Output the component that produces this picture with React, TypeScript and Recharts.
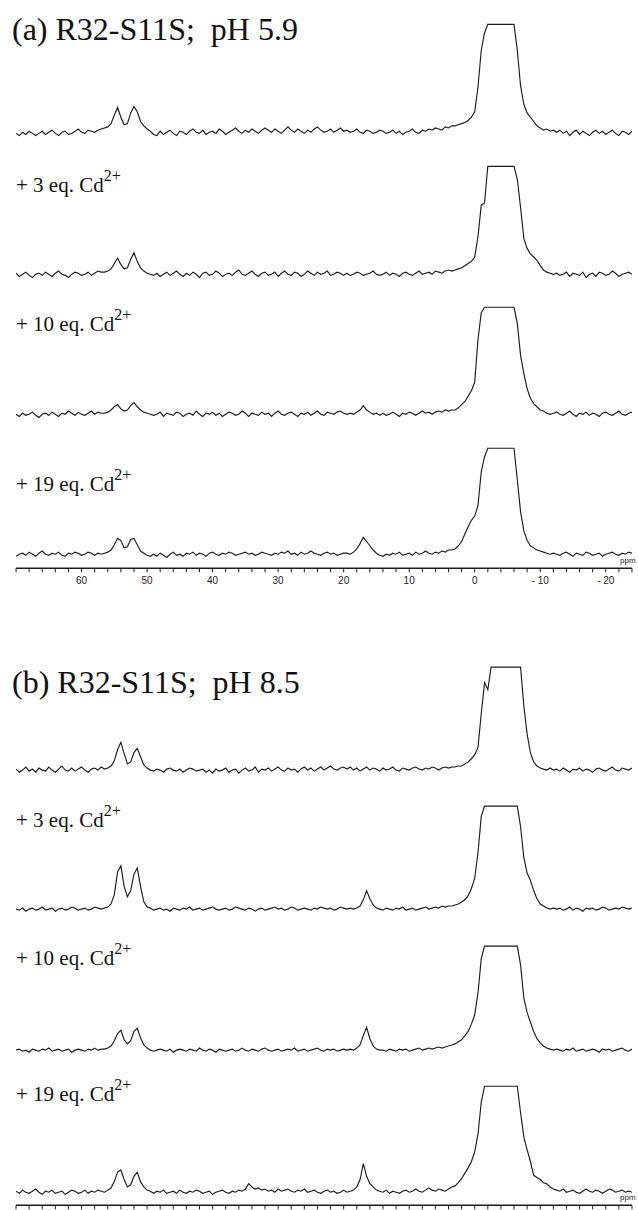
import React from 'react';
import { LineChart, Line, XAxis, YAxis } from 'recharts';

// 113Cd spectra, sampled every 0.5 ppm from 70 ppm down to -24 ppm
const PPM_START = 70;
const PPM_STEP = 0.5;
const PPM_COUNT = 189;
const ppmGrid = Array.from({ length: PPM_COUNT }, (_, i) => PPM_START - i * PPM_STEP);

const MINOR_TICKS = [
  70, 68, 66, 64, 62, 60, 58, 56, 54, 52, 50, 48, 46, 44, 42, 40, 38, 36, 34, 32, 30, 28, 26, 24,
  22, 20, 18, 16, 14, 12, 10, 8, 6, 4, 2, 0, -2, -4, -6, -8, -10, -12, -14, -16, -18, -20, -22, -24,
];
const LABELLED_TICKS = [60, 50, 40, 30, 20, 10, 0, -10, -20];

const PANEL_TITLES = ['(a) R32-S11S;  pH 5.9', '(b) R32-S11S;  pH 8.5'];
const TRACE_LABELS = ['+ 3 eq. Cd', '+ 10 eq. Cd', '+ 19 eq. Cd'];
const CHARGE = '2+';

// intensities, 100 = clipped top of the big peak
// segments: 70-57 | 56.5-49.5 | 49-20 | 19.5-14.5 | 14-3.5 | 3 to -12 | -12.5 to -24
const phLowFree = [
  -1, -3, 0, -2, 1, -1, -3, -1, 1, -2, 0, 2, -1, -3, 0, 1, -2, -1, 1, 3, 0, -1, 2, 1, 0, 2, 3,
  4, 5, 8, 16, 23, 14, 7, 8, 18, 24, 19, 10, 6, 3, 1,
  -2, -3, 1, -2, 0, 2, -1, -3, 1, 0, -2, 1, 3, 0, -1, 2, -2, 0, 1, -1, 3, 1, -2, 0, 2, 4, 1, -1, 2, 0,
  3, 1, -1, 2, 4, 2, 0, 3, 1, -1, 2, 5, 2, 0, 3, 1, -1, 2, 0, 3, 5, 2, 0, 1, 3, 0, 2, 4, 1,
  2, 0, 1, 3, 0, -1, 2, 1, -1, 0, 2,
  1, -1, 0, 2, -1, 1, -2, 0, 1, 3, 0, -1, 2, 1, 3, 2, 4, 3, 2, 5, 4, 6,
  6, 7, 8, 9, 11, 14, 19, 42, 76, 92, 100, 100, 100, 100, 100, 100, 100, 100, 100, 76, 43, 26, 18, 14, 10, 6, 4, 2, 3, 1, 2,
  0, 2, -1, 1, -3, 0, 2, -2, 1, -1, -3, 0, 2, -1, 1, -2, 0, 2, -1, -3, 1, 0, -2, 1,
];
const phLowCd3 = [
  1, -2, 0, 2, -1, -3, 0, 1, -1, 2, 0, -2, 1, 3, 0, -1, -3, 0, 2, 1, -1, 0, 2, -1, 1, 3, 2,
  2, 3, 5, 10, 15, 9, 5, 6, 14, 20, 12, 6, 3, 1, 0,
  -1, 1, -2, 0, 2, -1, 1, 3, 0, -2, 1, -1, 2, 0, -3, 1, 2, -1, 0, 3, 1, -2, 0, 1, -1, 2, 4, 0, -1, 1,
  3, 0, -2, 1, 2, -1, 0, 2, -2, 1, 3, 0, -1, 2, 1, -2, 0, 3, 1, -1, 2, 0, 1, 3, -1, 0, 2, 1, -1,
  1, -1, 0, 2, 1, -1, 0, 1, 3, 0, -1,
  0, 2, -1, 1, 0, -2, 1, 2, 0, -1, 1, 3, 0, 1, 2, 0, 3, 2, 1, 3, 4, 3,
  4, 5, 6, 8, 10, 12, 16, 35, 64, 66, 100, 100, 100, 100, 100, 100, 100, 100, 100, 88, 62, 33, 24, 19, 16, 13, 8, 4, 2, 1, 0,
  1, -1, 0, 2, -2, 1, 0, -1, 2, -3, 0, 1, -2, 2, 1, -1, 0, 3, 1, -2, 0, 1, 2, 0,
];
const phLowCd10 = [
  0, -2, 1, -1, 0, 2, -1, -3, 0, 1, -1, 2, 0, -2, 1, 0, 3, 1, -1, 2, 0, -1, 1, 3, 0, 2, 1,
  1, 2, 4, 7, 9, 5, 3, 4, 8, 11, 7, 4, 2, 1, 0,
  -1, 0, 2, -2, 1, 0, -1, 2, 1, -2, 0, 1, -1, 3, 0, -2, 1, 0, 2, -1, 1, -2, 0, 2, 1, -1, 0, 3, 1, -2,
  1, 0, -1, 2, 0, 1, -2, 1, 3, 0, -1, 1, 2, 0, -2, 1, 0, 2, -1, 1, 3, 0, -1, 2, 1, 0, 2, 3, 1,
  0, 1, 0, 2, 4, 8, 4, 2, 0, 1, -1,
  1, -1, 0, 2, 0, -2, 1, 0, 2, 1, -1, 1, 3, 1, 2, 0, 2, 3, 2, 4, 3, 4,
  4, 6, 9, 12, 17, 22, 30, 70, 95, 100, 100, 100, 100, 100, 100, 100, 100, 100, 100, 85, 55, 38, 24, 15, 10, 7, 4, 3, 1, 0, 1,
  2, 0, -1, 1, 3, 0, -2, 1, 0, 2, -1, 1, 0, -2, 1, 2, 0, -1, 1, 3, 0, -1, 1, 2,
];
const phLowCd19 = [
  -2, 0, 1, -1, 2, 0, -2, 1, 3, 0, -1, 1, 0, 2, -1, -2, 1, 0, 2, 1, -1, 0, 2, 1, -1, 1, 0,
  1, 2, 4, 9, 15, 13, 6, 7, 14, 15, 9, 3, 1, -1, -2,
  0, -2, 1, -1, -3, 0, 2, -1, 0, -2, 1, 0, 2, -1, 1, 0, -2, 1, 2, 0, -1, 1, 0, 2, 1, -1, 0, 1, 2, 0,
  1, -1, 0, 2, 1, 0, -1, 1, 0, 2, 1, 3, 0, 1, -1, 2, 0, 1, 3, 1, 0, -1, 1, 2, 0, 1, -1, 0, 1,
  1, 0, 2, 5, 10, 16, 12, 8, 4, 1, -1,
  -2, 0, -1, 1, 0, 2, -1, 0, 1, -1, 2, 0, 1, 3, 1, 0, 2, 1, 3, 2, 4, 4,
  5, 8, 12, 19, 26, 32, 36, 46, 78, 92, 100, 100, 100, 100, 100, 100, 100, 100, 100, 70, 40, 22, 13, 8, 6, 4, 3, 2, 1, 0, 1,
  0, -1, 1, 2, 0, -2, 1, 0, -1, 2, 1, -1, 0, 1, -2, 0, 1, 2, 0, -1, 1, 0, 2, 1,
];

const phHighFree = [
  1, -2, 0, 3, -1, 1, -2, 2, 0, -1, 3, 0, -2, 1, 4, 0, -1, 2, -1, 1, 3, 0, -2, 1, 2, 0, 3,
  1, 2, 4, 9, 20, 27, 16, 6, 8, 17, 21, 13, 5, 2, 0,
  -1, 1, 0, -2, 1, 2, 0, -1, 1, -2, 0, 2, 1, -1, 0, 1, -2, 0, -3, 1, -1, 0, 2, -2, 0, 1, -3, 0, 2, -1,
  0, 3, -2, 1, 0, 2, -1, 1, 3, 0, -1, 2, 0, 1, -2, 1, 3, 0, 2, -1, 1, 3, 0, 2, 4, 1, 0, 2, 3,
  1, 3, 0, 2, -1, 1, 3, 0, 2, 1, -1,
  2, 0, 1, 3, 0, -1, 2, 1, 0, 2, 3, 1, 0, 2, 1, 3, 2, 0, 2, 3, 2, 3,
  3, 4, 4, 6, 8, 11, 15, 22, 55, 85, 78, 100, 100, 100, 100, 100, 100, 100, 100, 100, 100, 62, 35, 17, 8, 4, 2, 1, 0, 2, 0,
  1, -1, 2, 0, -2, 1, 0, 2, -1, 1, 0, -2, 1, 2, 0, -1, 1, 3, 0, -1, 2, 1, 0, 2,
];
const phHighCd3 = [
  0, -1, 1, -2, 0, 1, -1, 0, 2, -1, 0, 1, -2, 0, 1, -1, 0, 2, 1, -1, 0, 1, -1, 0, 2, 1, 0,
  1, 2, 5, 14, 36, 42, 22, 12, 18, 34, 40, 22, 7, 2, 1,
  -1, 0, 1, -1, 0, -2, 1, 0, -1, 1, 0, 2, -1, 0, 1, -1, 0, 1, 2, 0, -1, 0, 1, -1, 0, 2, 1, 0, -1, 1,
  0, -2, 0, 1, -1, 0, 1, 2, 0, 1, -1, 0, 2, 1, -1, 0, 1, 0, -1, 1, 0, 2, 1, 0, 1, -1, 0, 2, 1,
  0, 1, 0, 1, 3, 9, 18, 10, 4, 1, 0,
  -1, 1, 0, -1, 1, 0, 2, -1, 0, 1, -1, 0, 1, 2, 0, 1, 2, 1, 3, 2, 3, 3,
  4, 5, 7, 9, 13, 20, 30, 55, 90, 100, 100, 100, 100, 100, 100, 100, 100, 100, 100, 100, 80, 50, 35, 28, 18, 10, 5, 3, 1, 0, 1,
  0, 1, -1, 0, 2, -1, 1, 0, -2, 1, 0, 1, -1, 0, 2, 1, -1, 0, 1, 0, 2, 1, 0, 1,
];
const phHighCd10 = [
  0, 1, -1, 0, -2, 1, 0, -1, 1, 0, 2, -1, 0, 1, -1, 0, 1, -2, 0, 1, 0, -1, 1, 0, 2, 0, 1,
  1, 2, 4, 9, 16, 19, 10, 6, 9, 18, 21, 12, 5, 2, 0,
  -1, 0, 1, 0, -1, 1, -2, 0, 1, 0, -1, 1, 0, -1, 2, 0, -1, 1, 0, -2, 1, 0, -1, 0, 1, -1, 0, 2, 0, -1,
  1, 0, -1, 1, 2, 0, -1, 0, 1, -1, 0, 1, 0, 2, -1, 0, 1, -1, 0, 1, 2, 0, -1, 1, 0, 1, -1, 0, 1,
  0, 1, 0, 2, 5, 14, 22, 11, 4, 1, 0,
  0, -1, 1, 0, -1, 1, 0, 1, -1, 0, 1, 2, 0, 1, 2, 1, 2, 3, 2, 3, 4, 5,
  6, 8, 10, 14, 18, 25, 34, 55, 88, 100, 100, 100, 100, 100, 100, 100, 100, 100, 100, 100, 82, 50, 36, 27, 18, 11, 7, 4, 2, 1, 0,
  1, 0, -1, 1, 0, 2, -1, 0, 1, -1, 0, 1, 0, -2, 1, 0, 1, -1, 0, 1, 2, 0, -1, 1,
];
const phHighCd19 = [
  1, -1, 2, 0, -1, 1, 3, 0, -2, 1, 0, 2, -1, 0, 1, -2, 0, 2, 1, -1, 0, 2, -1, 1, 0, 2, 1,
  0, 2, 4, 10, 19, 21, 12, 5, 7, 15, 19, 10, 5, 2, 1,
  -1, 1, 0, 2, -1, 0, 1, -1, 2, 0, -1, 1, 0, 2, 1, -1, 0, 1, -2, 0, 1, 2, 0, -1, 1, 0, 2, 1, 3, 8,
  5, 3, 4, 2, 3, 1, 2, 0, 3, 1, 2, 3, 1, 0, 2, 1, 3, 0, 1, 2, 0, -1, 1, 2, 0, 1, -1, 0, 2,
  0, 1, 2, 5, 12, 27, 15, 8, 5, 2, 1,
  0, 2, -1, 1, 0, -1, 1, 2, 0, 1, 3, 1, 0, 2, 4, 2, 1, 3, 2, 1, 3, 5,
  6, 9, 13, 18, 23, 29, 38, 55, 85, 100, 100, 100, 100, 100, 100, 100, 100, 100, 100, 100, 75, 52, 40, 29, 16, 14, 12, 9, 8, 5, 3,
  2, 1, 3, 0, 1, 2, 0, -1, 1, 3, 1, 0, 2, 1, -1, 1, 3, 2, 0, 1, 2, 0, 1, 0,
];

// page layout (px): clipped top and baseline of every trace, axis line of each panel
const PANELS = [
  {
    titleY: 40,
    axisY: 568,
    labelled: true,
    traces: [phLowFree, phLowCd3, phLowCd10, phLowCd19],
    rows: [
      { top: 24, base: 132 },
      { top: 166, base: 274 },
      { top: 307, base: 414 },
      { top: 448, base: 554 },
    ],
    labelY: [192, 331, 491],
  },
  {
    titleY: 693,
    axisY: 1205,
    labelled: false,
    traces: [phHighFree, phHighCd3, phHighCd10, phHighCd19],
    rows: [
      { top: 667, base: 770 },
      { top: 806, base: 909 },
      { top: 946, base: 1050 },
      { top: 1086, base: 1192 },
    ],
    labelY: [827, 965, 1101],
  },
];

const W = 638;
const INK = '#1c1c1c';
const SERIF = '"Liberation Serif", "Times New Roman", serif';
const SANS = '"Liberation Sans", Arial, sans-serif';

function fmtTick(v: number, labelled: boolean) {
  if (!labelled || !LABELLED_TICKS.includes(v)) return '';
  return v < 0 ? `- ${-v}` : `${v}`;
}

function Trace({ values, top, base, axisY, labelled }: {
  values: number[]; top: number; base: number; axisY?: number; labelled?: boolean;
}) {
  const scale = (base - top) / 100;
  const chartTop = top - 4 * scale;
  const plotBottom = axisY ?? base + 12 * scale;
  const yMin = -(plotBottom - base) / scale;
  const axisH = axisY ? 24 : 0;
  const data = ppmGrid.map((p, i) => ({ ppm: p, v: values[i] }));

  return (
    <div style={{ position: 'absolute', left: 0, top: chartTop }}>
      <LineChart
        width={W}
        height={plotBottom - chartTop + axisH}
        data={data}
        margin={{ top: 0, right: 6, bottom: 0, left: 16 }}
      >
        <XAxis
          type="number"
          dataKey="ppm"
          domain={[-24, 70]}
          reversed
          allowDataOverflow
          hide={!axisY}
          height={axisH}
          ticks={MINOR_TICKS}
          interval={0}
          tickSize={4}
          tickMargin={5}
          tickFormatter={(v: number) => fmtTick(v, !!labelled)}
          axisLine={{ stroke: INK, strokeWidth: 1.3 }}
          tickLine={{ stroke: INK, strokeWidth: 1 }}
          tick={{ fontSize: 10, fill: '#222', fontFamily: SANS }}
        />
        <YAxis hide domain={[yMin, 104]} allowDataOverflow />
        <Line
          type="linear"
          dataKey="v"
          stroke={INK}
          strokeWidth={1.15}
          dot={false}
          isAnimationActive={false}
        />
      </LineChart>
    </div>
  );
}

export default function App() {
  return (
    <div
      style={{
        position: 'absolute',
        left: 0,
        top: 0,
        width: W,
        height: 1210,
        overflow: 'hidden',
        background: '#fff',
      }}
    >
      {PANELS.map((panel, pi) =>
        panel.traces.map((values, ti) => (
          <Trace
            key={`${pi}-${ti}`}
            values={values}
            top={panel.rows[ti].top}
            base={panel.rows[ti].base}
            axisY={ti === panel.traces.length - 1 ? panel.axisY : undefined}
            labelled={panel.labelled}
          />
        ))
      )}
      <svg width={W} height={1210} style={{ position: 'absolute', left: 0, top: 0, pointerEvents: 'none' }}>
        {PANELS.map((panel, pi) => (
          <g key={pi}>
            <text
              x={12}
              y={panel.titleY}
              fontFamily={SERIF}
              fontSize={32}
              fill="#111"
              style={{ whiteSpace: 'pre' }}
            >
              {PANEL_TITLES[pi]}
            </text>
            {TRACE_LABELS.map((lab, li) => (
              <text key={li} x={16} y={panel.labelY[li]} fontFamily={SERIF} fontSize={21} fill="#111">
                {lab}
                <tspan dy={-11} fontSize={16}>{CHARGE}</tspan>
              </text>
            ))}
            <text x={620} y={panel.axisY - 5} fontFamily={SANS} fontSize={8} fill="#222">
              ppm
            </text>
          </g>
        ))}
      </svg>
    </div>
  );
}
